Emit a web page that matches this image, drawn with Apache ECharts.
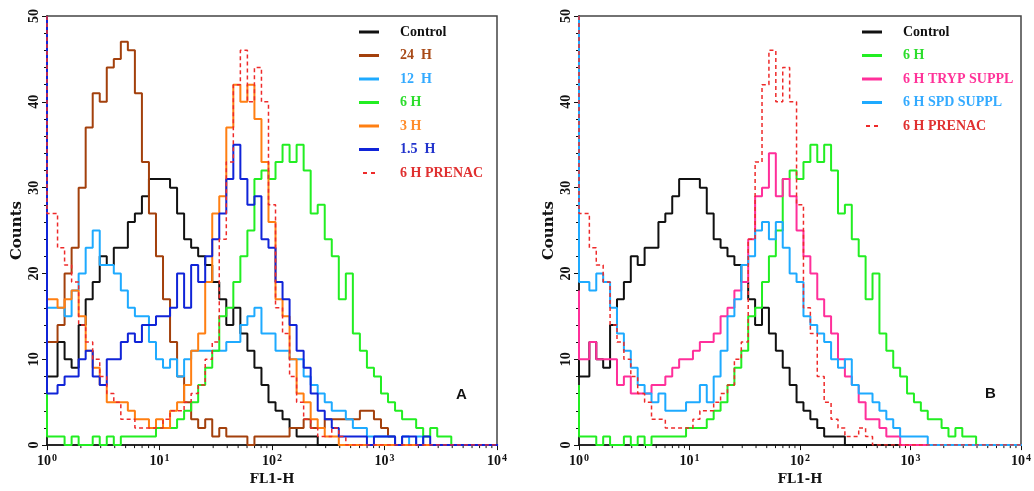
<!DOCTYPE html>
<html lang="en">
<head>
<meta charset="UTF-8">
<title>FL1-H histograms</title>
<script src="https://cdn.jsdelivr.net/npm/echarts@6/dist/echarts.min.js"></script>
<style>
    html, body { margin: 0; padding: 0; background: #fff; }
    #chart { width: 1034px; height: 491px; }
</style>
</head>
<body>
<div id="chart"></div>
<script type="text/javascript">
    // 16 channels per decade, channel 0 = pile-up at 10^0
    var RES = 16;

    var control = [10, 8, 12, 10, 9, 14, 17, 19, 22, 21,
        23, 23, 26, 27, 29, 31, 31, 31, 30, 27,
        24, 23, 22, 21, 19, 17, 14, 16, 13, 11,
        9, 7, 5, 4, 3, 2, 1, 1, 1, 0,
        0, 0, 0, 0, 0, 0, 0, 0, 0, 0,
        0, 0, 0, 0, 0, 0, 0, 0, 0, 0,
        0, 0, 0, 0, 0];
    var h24 = [12, 12, 14, 20, 23, 30, 37, 41, 40, 44,
        45, 47, 46, 41, 33, 27, 22, 17, 12, 8,
        5, 3, 2, 3, 1, 2, 1, 1, 1, 0,
        1, 1, 1, 1, 1, 2, 2, 3, 2, 2,
        3, 3, 3, 3, 3, 4, 4, 3, 2, 1,
        0, 0, 0, 0, 0, 0, 0, 0, 0, 0,
        0, 0, 0, 0, 0];
    var h12 = [19, 16, 16, 15, 18, 20, 23, 25, 21, 21,
        20, 18, 16, 15, 15, 12, 10, 9, 10, 8,
        10, 11, 11, 11, 11, 11, 12, 12, 14, 15,
        16, 13, 13, 11, 11, 10, 10, 8, 7, 6,
        5, 4, 4, 3, 2, 2, 1, 1, 1, 1,
        0, 1, 0, 1, 0, 0, 0, 0, 0, 0,
        0, 0, 0, 0, 0];
    var h6 = [7, 1, 1, 0, 1, 0, 0, 1, 0, 1,
        0, 1, 1, 1, 1, 1, 2, 2, 2, 3,
        4, 5, 7, 9, 11, 15, 16, 19, 22, 25,
        31, 32, 31, 33, 35, 33, 35, 32, 27, 28,
        24, 22, 17, 20, 13, 11, 9, 8, 6, 5,
        4, 3, 3, 2, 1, 2, 1, 1, 0, 0,
        0, 0, 0, 0, 0];
    var h3 = [34, 17, 16, 17, 18, 15, 11, 9, 7, 5,
        5, 5, 4, 3, 3, 2, 3, 2, 4, 5,
        7, 11, 13, 19, 27, 29, 37, 42, 40, 42,
        38, 33, 26, 17, 15, 10, 6, 5, 3, 2,
        1, 1, 0, 0, 0, 0, 0, 0, 0, 0,
        0, 0, 0, 0, 0, 0, 0, 0, 0, 0,
        0, 0, 0, 0, 0];
    var h15 = [50, 6, 7, 8, 8, 10, 11, 8, 7, 10,
        10, 12, 13, 12, 14, 14, 15, 15, 16, 20,
        16, 21, 19, 22, 24, 27, 31, 35, 31, 28,
        29, 24, 23, 19, 17, 14, 11, 9, 6, 4,
        3, 2, 1, 1, 1, 1, 0, 1, 1, 1,
        0, 1, 1, 0, 1, 0, 0, 0, 0, 0,
        0, 0, 0, 0, 0];
    var prenac = [50, 27, 23, 21, 19, 14, 12, 10, 8, 6,
        5, 3, 3, 2, 2, 2, 2, 3, 4, 4,
        5, 6, 7, 10, 12, 24, 33, 42, 46, 40,
        44, 40, 28, 16, 13, 8, 5, 3, 2, 1,
        1, 2, 1, 0, 0, 0, 0, 0, 0, 0,
        0, 0, 0, 0, 0, 0, 0, 0, 0, 0,
        0, 0, 0, 0, 0];
    var tryp = [18, 10, 12, 10, 10, 10, 7, 8, 6, 6,
        6, 7, 7, 8, 9, 10, 10, 11, 12, 12,
        13, 15, 16, 18, 19, 24, 29, 30, 34, 29,
        31, 29, 25, 22, 20, 17, 15, 13, 10, 8,
        7, 5, 3, 3, 2, 1, 1, 0, 0, 0,
        0, 0, 0, 0, 0, 0, 0, 0, 0, 0,
        0, 0, 0, 0, 0];
    var spd = [50, 19, 18, 20, 19, 16, 13, 11, 9, 7,
        6, 5, 6, 4, 4, 4, 5, 5, 7, 5,
        8, 11, 15, 17, 21, 22, 25, 26, 24, 26,
        23, 20, 19, 15, 14, 13, 12, 10, 9, 10,
        7, 6, 6, 5, 4, 3, 2, 1, 1, 1,
        1, 0, 0, 0, 0, 0, 0, 0, 0, 0,
        0, 0, 0, 0, 0];

    var minorTickValues = [2, 3, 4, 5, 6, 7, 8, 9,
        20, 30, 40, 50, 60, 70, 80, 90,
        200, 300, 400, 500, 600, 700, 800, 900,
        2000, 3000, 4000, 5000, 6000, 7000, 8000, 9000];

    var serifB = 'Liberation Serif';
    var serifW = 'DejaVu Serif';

    // legend samples: a thin bar, or two short dashes (M points only fix the box)
    var ICON_LINE = 'path://M0,0M20,14M0,5.5h20v3h-20z';
    var ICON_DASH = 'path://M0,0M20,14M4,6h4v2h-4zM12,6h4v2h-4z';

    // channel i -> [FL1-H, counts]; bins are centred on 10^(i/RES)
    function toPoints(vals) {
        return vals.map(function (v, i) {
            var x = i === 0 ? 1 : Math.pow(10, (i + 0.5) / RES);
            return [x, v];
        });
    }

    function hist(name, vals, color, idx, dashed) {
        return {
            name: name,
            type: 'line',
            xAxisIndex: idx,
            yAxisIndex: idx,
            step: 'start',
            symbol: 'none',
            silent: true,
            data: toPoints(vals),
            lineStyle: {
                color: color,
                width: dashed ? 1.5 : 2,
                type: dashed ? [4, 3] : 'solid'
            },
            itemStyle: { color: color }
        };
    }

    function minorTicks(idx) {
        return {
            type: 'custom',
            xAxisIndex: idx,
            yAxisIndex: idx,
            silent: true,
            clip: false,
            data: minorTickValues.map(function (v) { return [v, 0]; }),
            renderItem: function (params, api) {
                var p = api.coord([api.value(0), 0]);
                return {
                    type: 'line',
                    shape: { x1: p[0], y1: p[1], x2: p[0], y2: p[1] + 3 },
                    style: { stroke: '#111', lineWidth: 1 }
                };
            }
        };
    }

    function xAxisOf(idx) {
        return {
            gridIndex: idx,
            type: 'log',
            logBase: 10,
            min: 1,
            max: 10000,
            name: 'FL1-H',
            nameLocation: 'middle',
            nameGap: 27,
            nameTextStyle: { fontFamily: serifW, fontWeight: 'bold', fontSize: 13, color: '#111' },
            axisLine: { lineStyle: { color: '#111', width: 1.5 } },
            axisTick: { length: 5, lineStyle: { color: '#111' } },
            splitLine: { show: false },
            axisLabel: {
                margin: 8,
                formatter: function (v) {
                    return '{b|10}{s|' + Math.round(Math.log10(v)) + '}';
                },
                rich: {
                    b: { fontFamily: serifB, fontWeight: 'bold', fontSize: 14, color: '#111', lineHeight: 16 },
                    s: { fontFamily: serifB, fontWeight: 'bold', fontSize: 10, color: '#111', verticalAlign: 'top', padding: [0, 0, 0, 1] }
                }
            }
        };
    }

    function yAxisOf(idx) {
        return {
            gridIndex: idx,
            type: 'value',
            min: 0,
            max: 50,
            interval: 10,
            name: 'Counts',
            nameLocation: 'middle',
            nameGap: 22,
            nameRotate: 90,
            nameTextStyle: { fontFamily: serifW, fontWeight: 'bold', fontSize: 15, color: '#111' },
            axisLine: { show: true, lineStyle: { color: '#111', width: 1.5 } },
            axisTick: { length: 5, lineStyle: { color: '#111' } },
            minorTick: { show: true, splitNumber: 5, length: 3, lineStyle: { color: '#111' } },
            splitLine: { show: false },
            axisLabel: { rotate: 90, margin: 6, fontFamily: serifB, fontWeight: 'bold', fontSize: 14, color: '#111' }
        };
    }

    function legendOf(left, items) {
        return {
            orient: 'vertical',
            left: left,
            top: 20,
            itemWidth: 20,
            itemHeight: 14,
            itemGap: 9.5,
            selectedMode: false,
            textStyle: { fontFamily: serifB, fontWeight: 'bold', fontSize: 14, padding: [0, 0, 0, 16], lineHeight: 14 },
            data: items.map(function (it) {
                return { name: it[0], icon: it[2] ? ICON_DASH : ICON_LINE, textStyle: { color: it[1] } };
            })
        };
    }

    var C_BLACK = '#111111', C_BROWN = '#a3400c', C_SKY = '#1eaaff', C_GREEN = '#22ee22',
        C_ORANGE = '#ff7f12', C_BLUE = '#1024d8', C_RED = '#ee2a2a', C_PINK = '#ff2f9a';

    var myChart = echarts.init(document.getElementById('chart'));
    var option = {
        animation: false,
        backgroundColor: '#fff',
        grid: [
            { left: 47, right: 537, top: 16, bottom: 43, show: true, borderColor: '#444', borderWidth: 1.5 },
            { left: 579, right: 11, top: 16, bottom: 44, show: true, borderColor: '#444', borderWidth: 1.5 }
        ],
        xAxis: [xAxisOf(0), xAxisOf(1)],
        yAxis: [yAxisOf(0), yAxisOf(1)],
        legend: [
            legendOf(354, [['Control', '#111'], ['24  H', '#a84a18'], ['12  H', '#33aaff'], ['6 H', '#2ddd2d'],
                ['3 H', '#ff8c2a'], ['1.5  H', '#2233cc'], ['6 H PRENAC', '#e03030', true]]),
            legendOf(857, [['Control', '#111'], ['6 H', '#2ddd2d'], ['6 H TRYP SUPPL', '#ff3399'],
                ['6 H SPD SUPPL', '#33aaff'], ['6 H PRENAC', '#e03030', true]])
        ],
        graphic: [
            { type: 'text', left: 456, top: 387, style: { text: 'A', font: 'bold 15px "Liberation Sans"', fill: '#111' } },
            { type: 'text', left: 985, top: 386, style: { text: 'B', font: 'bold 15px "Liberation Sans"', fill: '#111' } }
        ],
        series: [
            hist('Control', control, C_BLACK, 0),
            hist('24  H', h24, C_BROWN, 0),
            hist('12  H', h12, C_SKY, 0),
            hist('6 H', h6, C_GREEN, 0),
            hist('3 H', h3, C_ORANGE, 0),
            hist('1.5  H', h15, C_BLUE, 0),
            hist('6 H PRENAC', prenac, C_RED, 0, true),
            minorTicks(0),
            hist('Control', control, C_BLACK, 1),
            hist('6 H', h6, C_GREEN, 1),
            hist('6 H TRYP SUPPL', tryp, C_PINK, 1),
            hist('6 H SPD SUPPL', spd, C_SKY, 1),
            hist('6 H PRENAC', prenac, C_RED, 1, true),
            minorTicks(1)
        ]
    };
    myChart.setOption(option);
</script>
</body>
</html>
